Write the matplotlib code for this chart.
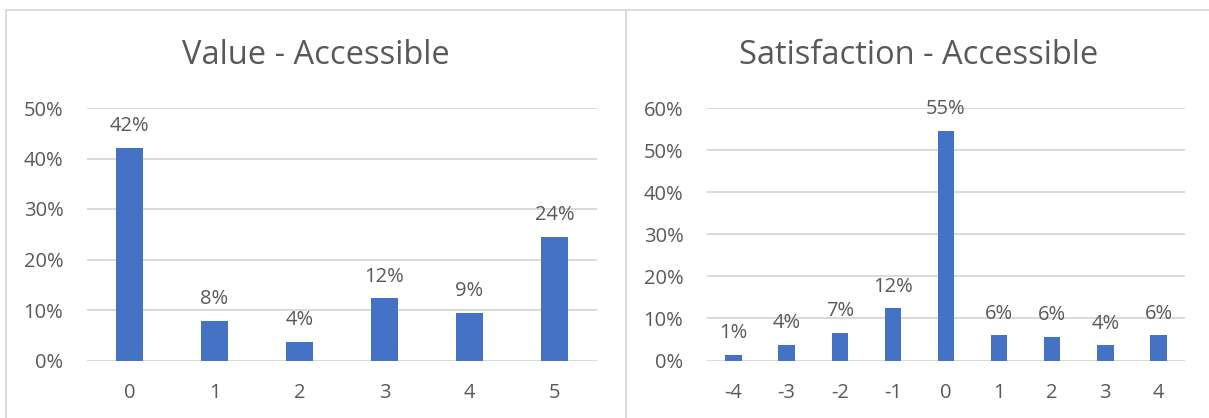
import matplotlib
matplotlib.use("Agg")
import matplotlib.pyplot as plt
from matplotlib.patches import Rectangle
from matplotlib.ticker import PercentFormatter

# Distribution of responses (fraction of respondents)
value_categories = ["0", "1", "2", "3", "4", "5"]
value_shares = [0.421, 0.079, 0.037, 0.123, 0.094, 0.245]

satisfaction_categories = ["-4", "-3", "-2", "-1", "0", "1", "2", "3", "4"]
satisfaction_shares = [0.014, 0.038, 0.066, 0.124, 0.545, 0.060, 0.057, 0.036, 0.060]

value_title = "Value - Accessible"
satisfaction_title = "Satisfaction - Accessible"

BAR = "#4472C4"
TEXT = "#595959"
GRID = "#D9D9D9"

plt.rcParams["font.family"] = ["Open Sans", "DejaVu Sans"]

W, H = 1209, 418
fig = plt.figure(figsize=(W / 100, H / 100), dpi=100)


def box(x0, y0, x1, y1):
    """Convert pixel box (top-left origin) into figure fraction rect."""
    return [x0 / W, 1 - y1 / H, (x1 - x0) / W, (y1 - y0) / H]


# Chart frames
for x0, x1 in [(5.5, 626), (626, W + 5)]:
    fig.patches.append(Rectangle((x0 / W, -0.05), (x1 - x0) / W, 1 - 10 / H + 0.05,
                                 transform=fig.transFigure, fill=False,
                                 edgecolor=GRID, linewidth=1.3))


def draw(rect, cats, vals, ymax, title, title_x):
    ax = fig.add_axes(box(*rect))
    x = range(len(cats))
    ax.bar(x, vals, width=0.31, color=BAR, zorder=3)
    ax.set_xlim(-0.5, len(cats) - 0.5)
    ax.set_ylim(0, ymax)
    ax.set_yticks([i / 10 for i in range(int(round(ymax * 10)) + 1)])
    ax.yaxis.set_major_formatter(PercentFormatter(1.0, decimals=0))
    ax.set_xticks(list(x))
    ax.set_xticklabels(cats)
    ax.grid(axis="y", color=GRID, linewidth=1.4, zorder=0)
    for s in ax.spines.values():
        s.set_visible(False)
    ax.tick_params(axis="both", length=0, labelsize=14.5, colors=TEXT)
    ax.tick_params(axis="x", pad=16)
    ax.tick_params(axis="y", pad=17)
    for xi, v in zip(x, vals):
        ax.annotate(f"{v:.0%}", (xi, v), xytext=(0, 12), textcoords="offset points",
                    ha="center", va="baseline", fontsize=14.5, color=TEXT,
                    annotation_clip=False)
    fig.text(title_x / W, 1 - 64 / H, title, ha="center", va="baseline",
             fontsize=23.5, color=TEXT)
    return ax


draw((87, 108, 597, 360.5), value_categories, value_shares, 0.5, value_title, 316)
draw((707, 108, 1185, 360.5), satisfaction_categories, satisfaction_shares, 0.6,
     satisfaction_title, 919)

fig.savefig("out.png", dpi=100)
